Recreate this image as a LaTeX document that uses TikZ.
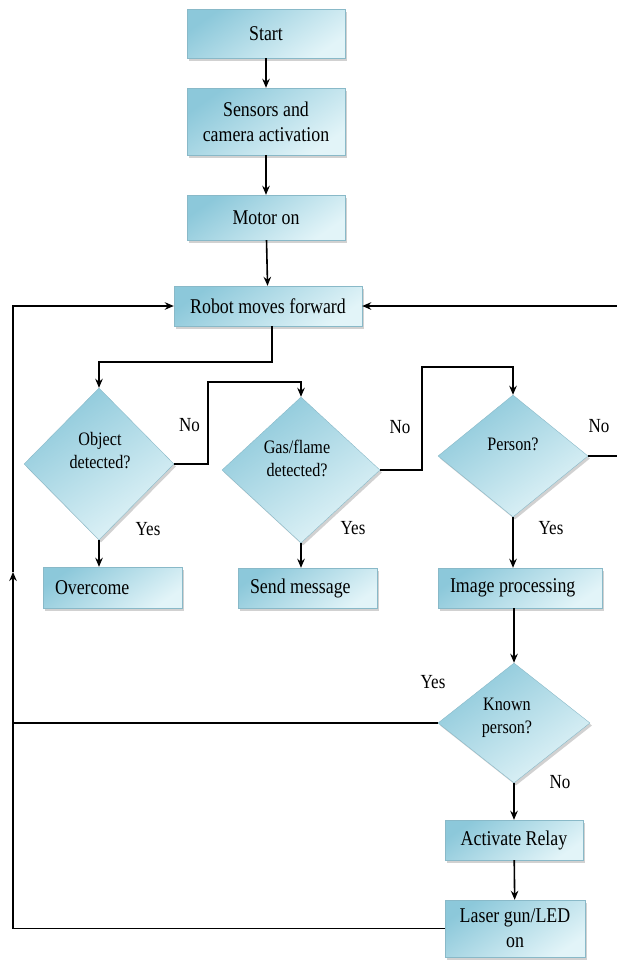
\documentclass[tikz,border=0pt]{standalone}
\usepackage{fontspec}
\setmainfont{Liberation Serif}[FakeStretch=0.85]
\usetikzlibrary{shapes.geometric,arrows.meta,shadows}
\definecolor{bxA}{RGB}{140,200,218}
\definecolor{bxB}{RGB}{226,244,248}
\begin{document}
\begin{tikzpicture}[x=1pt,y=-1pt,
  fill base/.style={top color=bxA, bottom color=bxB, shading angle=35,
     draw=bxA!80!gray, line width=0.4pt,
     drop shadow={shadow xshift=2pt, shadow yshift=-2.5pt, fill=black!45, opacity=0.4}},
  box/.style={fill base, rectangle, inner sep=2pt, align=center,
     font=\fontsize{21}{25}\selectfont},
  lbox/.style={fill base, rectangle, inner xsep=12pt, inner ysep=2pt, align=flush left,
     font=\fontsize{21}{25}\selectfont},
  dia/.style={fill base, diamond, inner sep=0pt},
  dtext/.style={align=center, font=\fontsize{19}{23}\selectfont},
  lab/.style={font=\fontsize{20}{24}\selectfont, inner sep=0pt},
  arr/.style={-{Stealth[length=9pt,width=7.5pt]}, line width=1.6pt},
  plain/.style={line width=1.6pt}]
\useasboundingbox (0,0) rectangle (617,967);
\clip (0,0) rectangle (617,967);

% boxes
\node[box, minimum width=158pt, minimum height=49pt] (start) at (266,33.5) {Start};
\node[box, minimum width=158pt, minimum height=67pt] (sens) at (266,121.5) {Sensors and\\camera activation};
\node[box, minimum width=158pt, minimum height=45pt] (motor) at (266,217.5) {Motor on};
\node[box, minimum width=188pt, minimum height=40pt] (robot) at (268,306) {Robot moves forward};

% diamonds
\node[dia, minimum width=150pt, minimum height=152pt] (obj) at (99,464) {};
\node[dtext] (objt) at (100,451) {Object\\detected?};
\node[dia, minimum width=158pt, minimum height=146pt] (gas) at (301,470) {};
\node[dtext] (gast) at (297,458) {Gas/flame\\detected?};
\node[dia, minimum width=150pt, minimum height=122pt] (person) at (513,456) {};
\node[dtext] (persont) at (513,444) {Person?};
\node[dia, minimum width=152pt, minimum height=120pt] (known) at (514,723) {};
\node[dtext] (knownt) at (507,718) {Known\\person?};

% result boxes
\node[lbox, text width=115pt, minimum height=41pt] (over) at (112.5,587.5) {Overcome};
\node[lbox, text width=115pt, minimum height=40pt] (send) at (307.5,588) {Send message};
\node[lbox, text width=140pt, minimum height=40pt] (image) at (520,588) {Image processing};
\node[box, minimum width=138pt, minimum height=40pt] (relay) at (514,840) {Activate Relay};
\node[box, minimum width=140pt, minimum height=57pt] (laser) at (515,928.5) {Laser gun/LED\\on};

% labels
\node[lab] (n1) at (189.5,425) {No};
\node[lab] (y1) at (148,529) {Yes};
\node[lab] (n2) at (400,427) {No};
\node[lab] (y2) at (353,528) {Yes};
\node[lab] (n3) at (599,426) {No};
\node[lab] (y3) at (551,528) {Yes};
\node[lab] (y4) at (433,682) {Yes};
\node[lab] (n4) at (560,782) {No};

% connectors
\draw[arr] (start) -- (sens);
\draw[arr] (sens) -- (motor);
\draw[arr] (motor) -- (robot);
\draw[arr] ([xshift=4pt]robot.south) -- ++(0,36) -| (obj.north);
\draw[arr] (obj.east) -| (208,382) -| (gas.north);
\draw[arr] (gas.east) -| (422,367) -| (person.north);
\draw[arr] (person.east) -- ++(40,0) |- (robot.east);
\draw[arr] (obj.south) -- (obj.south |- over.north);
\draw[arr] (gas.south) -- (gas.south |- send.north);
\draw[arr] (person.south) -- (person.south |- image.north);
\draw[arr] (image.south -| known.north) -- (known.north);
\draw[arr] (known.south) -- (known.south |- relay.north);
\draw[arr] (relay) -- (laser);
\coordinate (lmid) at (13,572);
\draw[arr] (laser.west) -| (lmid);
\draw[arr] (lmid) |- (robot.west);
\draw[plain] (known.west) -- (known.west -| lmid);
\end{tikzpicture}
\end{document}
